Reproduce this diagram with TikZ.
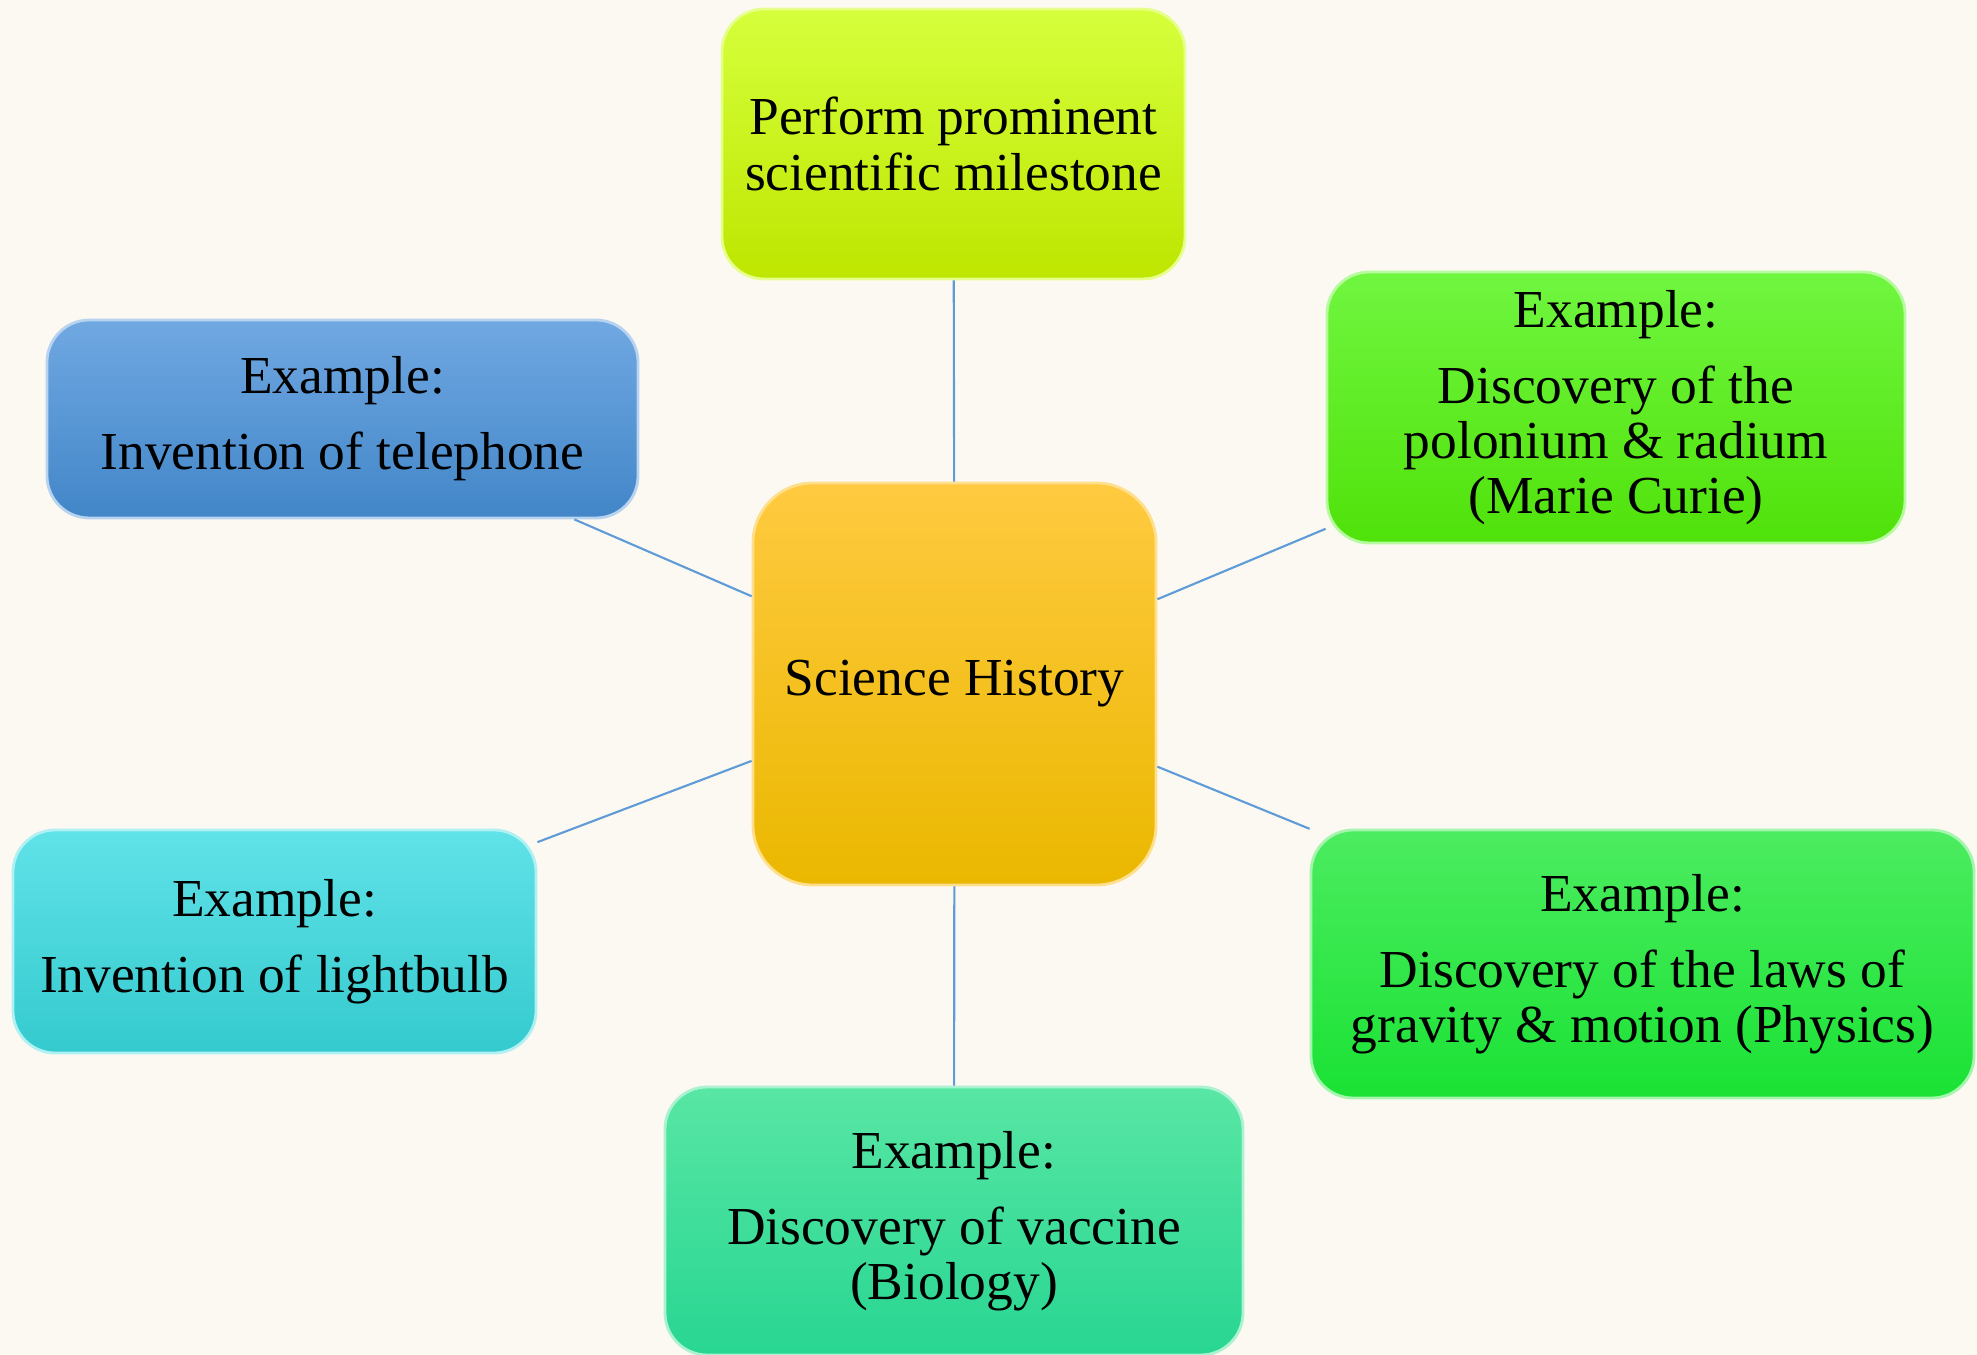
\documentclass[tikz,border=0pt]{standalone}
\usepackage{fontspec}
\setmainfont{Liberation Serif}
\definecolor{bgcream}{RGB}{252,249,242}
\definecolor{linkblue}{RGB}{95,155,215}
\definecolor{goalT}{RGB}{214,255,60}
\definecolor{goalB}{RGB}{190,230,0}
\definecolor{sciT}{RGB}{255,202,64}
\definecolor{sciB}{RGB}{234,184,0}
\definecolor{telT}{RGB}{112,168,226}
\definecolor{telB}{RGB}{66,134,200}
\definecolor{curT}{RGB}{112,246,64}
\definecolor{curB}{RGB}{80,226,10}
\definecolor{bulbT}{RGB}{96,226,232}
\definecolor{bulbB}{RGB}{52,202,206}
\definecolor{phyT}{RGB}{76,236,96}
\definecolor{phyB}{RGB}{26,226,52}
\definecolor{vacT}{RGB}{88,230,164}
\definecolor{vacB}{RGB}{40,214,146}
\begin{document}
\begin{tikzpicture}[
    box/.style = {rectangle, rounded corners=12pt, align=center, inner sep=0pt,
                  line width=0.8pt, font=\fontsize{15.2}{15.7}\selectfont},
    link/.style = {draw=linkblue, line width=0.6pt}]
    \fill[bgcream] (0,0) rectangle (19.77,-13.55);
    \useasboundingbox (0,0) rectangle (19.77,-13.55);
    %
    \node[box, rounded corners=17pt, top color=sciT, bottom color=sciB, draw=sciT!60!white,
          minimum width=4.03cm, minimum height=4.02cm] (sci) at (9.545,-6.84) {Science History};
    \node[box, top color=goalT, bottom color=goalB, draw=goalT!60!white,
          minimum width=4.63cm, minimum height=2.70cm] (goal) at (9.535,-1.44)
          {Perform prominent\\scientific milestone};
    \node[box, top color=telT, bottom color=telB, draw=telT!50!white,
          minimum width=5.91cm, minimum height=1.98cm] (tel) at (3.425,-4.19)
          {Example:\\[6pt]Invention of telephone};
    \node[box, top color=curT, bottom color=curB, draw=curT!50!white,
          minimum width=5.78cm, minimum height=2.71cm] (curie) at (16.16,-4.075)
          {Example:\\[6pt]Discovery of the\\polonium \& radium\\(Marie Curie)};
    \node[box, top color=bulbT, bottom color=bulbB, draw=bulbT!50!white,
          minimum width=5.23cm, minimum height=2.23cm] (bulb) at (2.745,-9.415)
          {Example:\\[6pt]Invention of lightbulb};
    \node[box, top color=phyT, bottom color=phyB, draw=phyT!50!white,
          minimum width=6.63cm, minimum height=2.68cm] (phys) at (16.425,-9.64)
          {Example:\\[6pt]Discovery of the laws of\\gravity \& motion (Physics)};
    \node[box, top color=vacT, bottom color=vacB, draw=vacT!50!white,
          minimum width=5.78cm, minimum height=2.68cm] (vacc) at (9.54,-12.21)
          {Example:\\[6pt]Discovery of vaccine\\(Biology)};
    %
    \draw[link] (sci) -- (goal);
    \draw[link] (sci) -- (tel);
    \draw[link] (sci) -- (curie);
    \draw[link] (sci) -- (bulb);
    \draw[link] (sci) -- (phys);
    \draw[link] (sci) -- (vacc);
\end{tikzpicture}
\end{document}
